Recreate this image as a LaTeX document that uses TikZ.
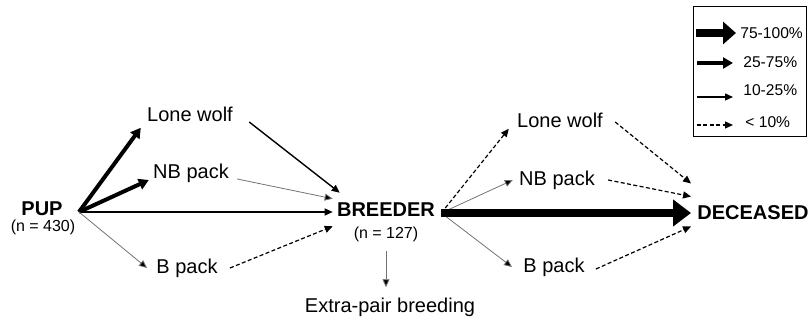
\documentclass[tikz,border=0pt]{standalone}
\usepackage{fontspec}
\setmainfont{Liberation Sans}
\usetikzlibrary{arrows.meta}
\tikzstyle{stage} = [inner sep = 3pt, font = \bfseries\fontsize{10}{12}\selectfont]
\tikzstyle{state} = [inner sep = 3pt, font = \fontsize{10}{12}\selectfont]
\tikzstyle{count} = [inner sep = 3pt, font = \fontsize{8}{10}\selectfont]
\tikzstyle{key} = [inner sep = 0pt, anchor = west, font = \fontsize{7.8}{9}\selectfont]
\tikzstyle{vhigh} = [line width = 4pt, -{Triangle[length = 9pt, width = 13pt]}]
\tikzstyle{high} = [line width = 2pt, -{Triangle[length = 5pt, width = 5.5pt]}]
\tikzstyle{mid} = [line width = 0.7pt, -{Triangle[length = 4pt, width = 3.5pt]}]
\tikzstyle{faint} = [line width = 0.4pt, draw = black!55, -{Triangle[length = 4pt, width = 3.5pt, fill = black]}]
\tikzstyle{low} = [line width = 0.6pt, dash pattern = on 2pt off 1.2pt, -{Triangle[length = 4pt, width = 3.5pt]}]

\begin{document}
\begin{tikzpicture}[x = 0.5pt, y = -0.5pt]
	\useasboundingbox (0,0) rectangle (811,320);

	\node (pup)[stage] at (42,209){PUP};
	\node (pupn)[count] at (43,227){(n = 430)};
	\coordinate (pupout) at ([xshift = 5pt, yshift = -1.5pt]pup.east);
	\node (lw1)[state] at (190,114){Lone wolf};
	\node (nb1)[state] at (191,173){NB pack};
	\node (bp1)[state] at (187,268){B pack};
	\node (br)[stage] at (386,210){BREEDER};
	\node (brn)[count] at (386,234){(n = 127)};
	\coordinate (brout) at ([yshift = -1.5pt]br.east);
	\node (epb)[state] at (390,307){Extra-pair breeding};
	\node (lw2)[state] at (560,120){Lone wolf};
	\node (nb2)[state] at (557,180){NB pack};
	\node (bp2)[state] at (554,267){B pack};
	\node (dec)[stage] at (753,213){DECEASED};

	% pup to first state
	\draw [high] (pupout) -- (lw1.south west);
	\draw [high] (pupout) -- ([xshift = 1pt, yshift = -3.5pt]nb1.west);
	\draw [mid] (pupout) -- ([xshift = 1pt, yshift = -1pt]br.west);
	\draw [faint] (pupout) -- ([xshift = -1.5pt]bp1.west);

	% first state to breeder
	\draw [mid] ([xshift = 5pt, yshift = -4pt]lw1.east) -- ([xshift = 4.5pt, yshift = 2pt]br.north west);
	\draw [faint] ([xshift = 1pt, yshift = -3pt]nb1.east) -- ([xshift = 1pt, yshift = -1pt]br.north west);
	\draw [low] ([xshift = 3pt]bp1.east) -- ([xshift = 1pt, yshift = -1.5pt]br.south west);
	\draw [faint] ([yshift = -1.5pt]brn.south) -- ([yshift = 2pt]brn.south |- epb.north);

	% breeder to deceased
	\draw [low] (brout) -- ([xshift = -1pt, yshift = 2.5pt]lw2.south west);
	\draw [faint] (brout) -- (nb2.west);
	\draw [faint] (brout) -- ([xshift = -2.5pt]bp2.west);
	\draw [vhigh] (brout) -- (dec.west);
	\draw [low] ([xshift = 3pt, yshift = -1pt]lw2.east) -- ([yshift = 8pt]dec.north west);
	\draw [low] ([xshift = 3.5pt]nb2.east) -- ([yshift = 1.5pt]dec.north west);
	\draw [low] ([xshift = 2.5pt, yshift = -1pt]bp2.east) -- (dec.south west);

	% legend
	\draw [line width = 0.5pt] (693,7) rectangle (806,137);
	\node (k1)[key] at (740,33){75-100\%};
	\node (k2)[key] at (743,62){25-75\%};
	\node (k3)[key] at (743,90){10-25\%};
	\node (k4)[key] at (745,122){< 10\%};
	\draw [line width = 4pt, -{Triangle[length = 6.5pt, width = 11pt]}] ([xshift = -22pt]k1.west) -- ([xshift = -2pt]k1.west);
	\draw [high] ([xshift = -23pt, yshift = -0.5pt]k2.west) -- ([xshift = -5pt, yshift = -0.5pt]k2.west);
	\draw [mid] ([xshift = -23pt, yshift = -3.5pt]k3.west) -- ([xshift = -5pt, yshift = -3.5pt]k3.west);
	\draw [low] ([xshift = -24pt, yshift = -1.5pt]k4.west) -- ([xshift = -6pt, yshift = -1.5pt]k4.west);
\end{tikzpicture}
\end{document}
